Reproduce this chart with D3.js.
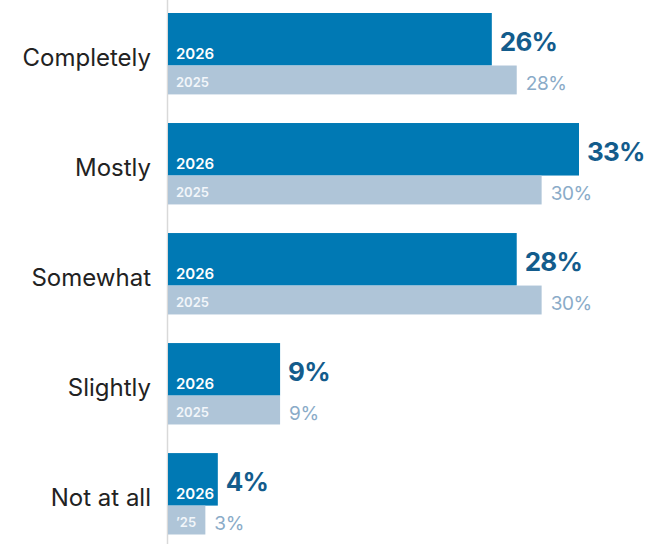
<!DOCTYPE html>
<html>
<head>
<meta charset="utf-8">
<script src="https://cdn.jsdelivr.net/npm/d3@7"></script>
<style>
  body { margin: 0; background: #fff; }
  svg { display: block; font-family: Inter, "Noto Sans", sans-serif; }
</style>
</head>
<body>
<div id="chart"></div>
<script>
const categories = ['Completely', 'Mostly', 'Somewhat', 'Slightly', 'Not at all'];
const values2026 = [26, 33, 28, 9, 4];
const values2025 = [28, 30, 30, 9, 3];
const years = ['2026', '2025'];

const width = 660;
const height = 544;
const margin = { top: 13, right: 80, bottom: 10, left: 168 };

const svg = d3.select('#chart')
    .append('svg')
    .attr('width', width)
    .attr('height', height);

const xScale = d3.scaleLinear()
    .domain([0, 33])
    .range([margin.left, 579]);

const yScale = d3.scaleBand()
    .domain(categories)
    .range([margin.top, 534.5])
    .paddingInner(0.26)
    .paddingOuter(0);

const bw = yScale.bandwidth();
const h26 = bw * 0.645;
const h25 = bw - h26;

const rows = categories.map((c, i) => ({ cat: c, v26: values2026[i], v25: values2025[i] }));

// axis line
svg.append('line')
    .attr('x1', margin.left - 0.5)
    .attr('x2', margin.left - 0.5)
    .attr('y1', 0)
    .attr('y2', height)
    .attr('stroke', '#d9d9d9')
    .attr('stroke-width', 1.5);

const g = svg.selectAll('g.row')
    .data(rows)
    .enter().append('g')
    .attr('class', 'row')
    .attr('transform', d => `translate(0,${yScale(d.cat)})`);

// category labels
g.append('text')
    .attr('x', 151)
    .attr('y', h26 + 0.5)
    .attr('text-anchor', 'end')
    .style('font-size', '24px')
    .style('fill', '#222')
    .text(d => d.cat);

// 2026 bars
g.append('rect')
    .attr('x', xScale(0))
    .attr('y', 0)
    .attr('width', d => xScale(d.v26) - xScale(0))
    .attr('height', h26)
    .attr('fill', '#0079b4');

// 2025 bars
g.append('rect')
    .attr('x', xScale(0))
    .attr('y', h26)
    .attr('width', d => xScale(d.v25) - xScale(0))
    .attr('height', h25)
    .attr('fill', '#afc5d8');

// year labels inside bars
g.append('text')
    .attr('x', xScale(0) + 8)
    .attr('y', h26 - 7)
    .style('font-size', '15px')
    .style('font-weight', 600)
    .style('fill', '#fff')
    .text(years[0]);

g.append('text')
    .attr('x', xScale(0) + 8)
    .attr('y', h26 + h25 - 7)
    .style('font-size', '13px')
    .style('font-weight', 600)
    .style('fill', '#f2f6fa')
    .text(years[1])
    .each(function(d) {
        const barW = xScale(d.v25) - xScale(0);
        if (this.getComputedTextLength() + 12 > barW) {
            d3.select(this).text('\u2019' + years[1].slice(2));
        }
    });

// value labels
g.append('text')
    .attr('x', d => xScale(d.v26) + 8)
    .attr('y', h26 / 2 + 12)
    .style('font-size', '26px')
    .style('font-weight', 700)
    .style('letter-spacing', '-0.8px')
    .style('fill', '#135c8c')
    .text(d => d.v26 + '%');

g.append('text')
    .attr('x', d => xScale(d.v25) + 9)
    .attr('y', h26 + h25 / 2 + 10)
    .style('font-size', '19px')
    .style('letter-spacing', '-0.4px')
    .style('fill', '#8aabc8')
    .text(d => d.v25 + '%');
</script>
</body>
</html>
